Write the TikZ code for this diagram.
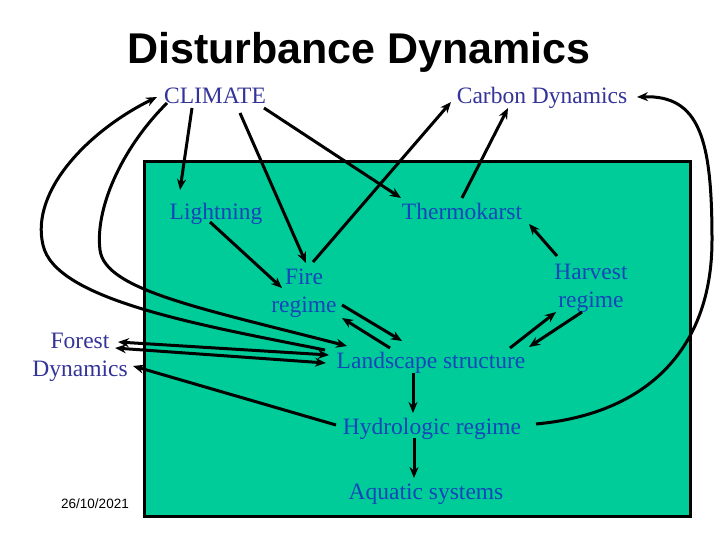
\documentclass[tikz,border=0pt]{standalone}
\usepackage{fontspec}
\setmainfont{Liberation Serif}
\newfontfamily\titlefont{Liberation Sans}
\usetikzlibrary{arrows.meta}
\definecolor{boxgreen}{RGB}{0,204,153}
\definecolor{outerblue}{RGB}{51,51,153}
\definecolor{innerblue}{RGB}{20,70,185}
\begin{document}
\begin{tikzpicture}[x=1pt,y=-1pt,
  lbl/.style={inner sep=0pt, font=\fontsize{23.5}{28}\selectfont},
  one/.style={lbl, text height=16pt, text depth=5pt},
  two/.style={lbl, align=center},
  outer/.style={text=outerblue},
  inner/.style={text=innerblue},
  conn/.style={line width=3pt, -{Stealth[length=11pt,width=9pt]}},
  dbl/.style={line width=3pt, {Stealth[length=11pt,width=9pt]}-{Stealth[length=11pt,width=9pt]}}]
\useasboundingbox (0,0) rectangle (720,540);
\fill[white] (0,0) rectangle (720,540);
\draw[line width=3pt, fill=boxgreen] (144,162) rectangle (690,516);

\node[anchor=base, font=\titlefont\bfseries\fontsize{43}{50}\selectfont] (title) at (359,64) {Disturbance Dynamics};
\node[one, outer] (climate) at (215,98.5) {CLIMATE};
\node[one, outer] (carbon) at (542,98.5) {Carbon Dynamics};
\node[one, inner] (lightning) at (216,213.5) {Lightning};
\node[one, inner] (thermo) at (462,213.5) {Thermokarst};
\node[two, inner] (fire) at (304,293) {Fire\\regime};
\node[two, inner] (harvest) at (591,288) {Harvest\\regime};
\node[two, outer] (forest) at (80,357) {Forest\\Dynamics};
\node[one, inner] (landscape) at (431,362.5) {Landscape structure};
\node[one, inner] (hydro) at (432,428.5) {Hydrologic regime};
\node[one, inner] (aquatic) at (426,493.5) {Aquatic systems};
\node[anchor=base, font=\titlefont\fontsize{13.5}{16}\selectfont] (date) at (95,508) {26/10/2021};

% straight connectors
\draw[conn] ([shift={(-23,9.5)}]climate.center) -- ([shift={(-36,-23.5)}]lightning.center);
\draw[conn] ([shift={(25,14.5)}]climate.center) -- ([shift={(2,-30)}]fire.center);
\draw[conn] ([shift={(49,9.5)}]climate.center) -- ([shift={(-61,-15.5)}]thermo.center);
\draw[conn] ([shift={(9,-31)}]fire.center) -- ([shift={(-91,3.5)}]carbon.center);
\draw[conn] ([shift={(0,-15.5)}]thermo.center) -- ([shift={(-34,9.5)}]carbon.center);
\draw[conn] ([shift={(-6,8.5)}]lightning.center) -- ([shift={(-22,-5)}]fire.center);
\draw[conn] ([shift={(-34,-32)}]harvest.center) -- ([shift={(67,10.5)}]thermo.center);
\draw[conn] ([shift={(38,12)}]fire.center) -- ([shift={(-29,-21.5)}]landscape.center);
\draw[conn] ([shift={(-41,-14.5)}]landscape.center) -- ([shift={(38,25)}]fire.center);
\draw[conn] ([shift={(79,-14.5)}]landscape.center) -- ([shift={(-35,24)}]harvest.center);
\draw[conn] ([shift={(-9,24)}]harvest.center) -- ([shift={(98,-15.5)}]landscape.center);
\draw[dbl] ([shift={(38,-15)}]forest.center) -- ([shift={(-102,-7.5)}]landscape.center);
\draw[dbl] ([shift={(35,-9)}]forest.center) -- ([shift={(-105,0.5)}]landscape.center);
\draw[conn] ([shift={(-18,10.5)}]landscape.center) -- ([shift={(-19,-15.5)}]hydro.center);
\draw[conn] ([shift={(-18,9.5)}]hydro.center) -- ([shift={(-12,-15.5)}]aquatic.center);
\draw[conn] ([shift={(-96,-3.5)}]hydro.center) -- ([shift={(53,9)}]forest.center);

% curved connectors
\coordinate (outerbend) at (43,245);
\coordinate (innerbend) at (100,250);
\coordinate (rightbend) at (712,240);
\draw[conn] ([shift={(-106,-12.5)}]landscape.center)
  .. controls +(-125,-25) and +(12,55) .. (outerbend)
  .. controls +(-13,-55) and +(-67,33) .. ([shift={(-58,-1.5)}]climate.center);
\draw[conn] ([shift={(-48,4.5)}]climate.center)
  .. controls +(-47,47) and +(-5,-40) .. (innerbend)
  .. controls +(5,40) and +(-147,-38) .. ([shift={(-84,-16.5)}]landscape.center);
\draw[conn] ([shift={(104,-4.5)}]hydro.center)
  .. controls +(110,-10) and +(0,110) .. (rightbend)
  .. controls +(0,-100) and +(63,-2) .. ([shift={(95,-1.5)}]carbon.center);
\end{tikzpicture}
\end{document}
